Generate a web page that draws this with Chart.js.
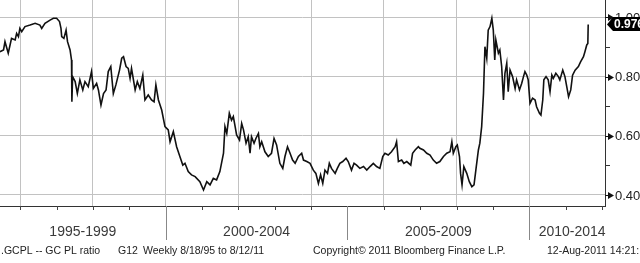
<!DOCTYPE html>
<html>
<head>
<meta charset="utf-8">
<script src="https://cdn.jsdelivr.net/npm/chart.js@4.4.1/dist/chart.umd.min.js"></script>
<style>
  html, body { margin: 0; padding: 0; background: #fff; }
  #wrap { width: 640px; height: 263px; }
</style>
</head>
<body>
<div id="wrap"><canvas id="chart_ratio" width="640" height="263"></canvas></div>
<script>
// fecha (años decimales) y ratio GC/PL
let years = [
  1995.44,1995.54,1995.58,1995.67,1995.76,1995.86,1995.90,1995.95,1995.99,1996.04,
  1996.13,1996.27,1996.41,1996.54,1996.59,1996.68,1996.82,1996.91,1997.00,1997.08,
  1997.12,1997.14,1997.20,1997.26,1997.30,1997.37,1997.41,1997.42,1997.44,1997.51,
  1997.57,1997.64,1997.72,1997.78,1997.87,1997.96,1998.01,1998.10,1998.15,1998.22,
  1998.29,1998.36,1998.42,1998.49,1998.56,1998.63,1998.73,1998.79,1998.84,1998.91,
  1998.97,1999.02,1999.06,1999.16,1999.22,1999.29,1999.37,1999.43,1999.52,1999.61,
  1999.68,1999.73,1999.80,1999.89,1999.98,2000.07,2000.12,2000.21,2000.30,2000.39,
  2000.47,2000.53,2000.62,2000.71,2000.81,2000.94,2001.04,2001.13,2001.22,2001.31,
  2001.40,2001.49,
  2001.59,2001.63,2001.68,2001.75,2001.81,2001.86,2001.91,2001.95,2002.03,2002.09,
  2002.14,2002.21,2002.27,2002.32,2002.36,2002.43,2002.48,2002.55,2002.59,2002.64,
  2002.73,2002.82,2002.91,2002.98,2003.05,2003.14,2003.22,2003.28,2003.35,2003.42,
  2003.49,2003.56,2003.65,2003.74,2003.79,2003.88,2003.97,2004.06,2004.13,2004.20,
  2004.26,2004.32,2004.38,2004.45,2004.50,2004.56,2004.66,2004.72,2004.79,2004.87,
  2004.96,2005.02,2005.11,2005.18,2005.25,2005.34,2005.44,2005.53,2005.62,2005.71,
  2005.80,2005.89,2005.97,2006.03,2006.12,2006.21,2006.31,2006.35,2006.40,2006.49,
  2006.55,2006.63,2006.74,2006.79,2006.86,2006.95,2006.99,
  2007.09,2007.18,2007.27,2007.36,2007.45,2007.54,2007.64,2007.73,2007.82,2007.87,
  2007.91,2007.98,2008.02,2008.08,2008.11,2008.15,2008.20,2008.28,2008.35,2008.42,
  2008.48,2008.53,2008.60,2008.64,2008.69,2008.74,2008.78,2008.83,2008.87,2008.92,
  2008.97,2009.01,2009.05,2009.08,2009.15,2009.19,2009.24,2009.29,2009.33,2009.38,
  2009.42,2009.47,2009.54,2009.61,2009.65,2009.73,2009.79,2009.84,2009.88,2009.93,
  2009.97,2010.02,2010.09,2010.16,2010.20,2010.28,2010.32,2010.37,2010.40,2010.46,
  2010.52,2010.57,2010.62,2010.66,2010.73,2010.80,2010.84,2010.92,2010.98,2011.03,
  2011.08,2011.14,2011.19,2011.26,2011.35,2011.41,2011.49,2011.53,2011.58,2011.61,
  2011.62
];
let ratio = [
  0.884,0.890,0.918,0.879,0.929,0.924,0.946,0.935,0.963,0.952,
  0.969,0.974,0.980,0.974,0.963,0.980,0.991,0.997,0.997,0.986,
  0.963,0.935,0.929,0.957,0.918,0.890,0.856,0.715,0.800,0.783,
  0.743,0.789,0.755,0.783,0.766,0.817,0.760,0.777,0.755,0.704,
  0.743,0.755,0.817,0.834,0.743,0.772,0.822,0.862,0.867,0.834,
  0.828,0.794,0.828,0.755,0.783,0.760,0.805,0.721,0.738,0.721,
  0.715,0.772,0.721,0.687,0.631,0.620,0.580,0.614,0.563,0.530,
  0.501,0.507,0.479,0.468,0.462,0.445,0.417,0.445,0.434,0.456,
  0.451,0.479,
  0.541,0.631,0.608,0.676,0.653,0.665,0.631,0.603,0.586,0.642,
  0.620,0.575,0.597,0.541,0.597,0.575,0.591,0.608,0.563,0.580,
  0.546,0.530,0.541,0.591,0.569,0.507,0.490,0.530,0.563,0.541,
  0.518,0.507,0.530,0.541,0.518,0.513,0.507,0.484,0.473,0.439,
  0.468,0.439,0.484,0.473,0.507,0.490,0.473,0.490,0.507,0.513,
  0.524,0.513,0.484,0.507,0.501,0.490,0.496,0.484,0.496,0.507,
  0.496,0.490,0.530,0.541,0.535,0.546,0.563,0.580,0.513,0.518,
  0.507,0.513,0.501,0.541,0.552,0.563,0.558,
  0.552,0.541,0.535,0.518,0.507,0.513,0.530,0.541,0.546,0.580,
  0.541,0.563,0.569,0.530,0.473,0.434,0.496,0.473,0.445,0.428,
  0.434,0.484,0.552,0.575,0.631,0.743,0.901,0.862,0.957,0.969,
  0.997,0.957,0.856,0.924,0.879,0.890,0.834,0.721,0.811,0.845,
  0.749,0.822,0.800,0.760,0.789,0.755,0.777,0.800,0.817,0.805,
  0.789,0.710,0.727,0.721,0.698,0.676,0.670,0.721,0.789,0.800,
  0.789,0.749,0.805,0.794,0.811,0.800,0.789,0.822,0.800,0.766,
  0.732,0.755,0.805,0.822,0.834,0.850,0.867,0.884,0.907,0.912,
  0.976
];
let gridYears = [1996, 1998, 2000, 2002, 2004, 2006, 2008, 2010];
let periodStarts = [1995, 2000, 2005, 2010];
let periodLabels = ['1995-1999', '2000-2004', '2005-2009', '2010-2014'];
let yTicks = [0.4, 0.6, 0.8, 1.0];
let yMinor = [0.5, 0.7, 0.9];
let lastValue = 0.976;
let footer = ['.GCPL -- GC PL ratio', 'G12', 'Weekly 8/18/95 to 8/12/11',
  'Copyright\u00a9 2011 Bloomberg Finance L.P.', '12-Aug-2011 14:21:'];

let bbg = {
  id: 'bbg',
  afterDraw(chart) {
    let ctx = chart.ctx, a = chart.chartArea, x = chart.scales.x, y = chart.scales.y;
    ctx.save();
    // year ticks below axis
    ctx.strokeStyle = '#444';
    ctx.lineWidth = 1;
    for (let yr = 1996; yr <= 2012; yr++) {
      let px = Math.round(x.getPixelForValue(yr)) + 0.5;
      ctx.beginPath(); ctx.moveTo(px, a.bottom); ctx.lineTo(px, a.bottom + 4); ctx.stroke();
    }
    // period separators + labels
    ctx.strokeStyle = '#888';
    ctx.font = '14px "Liberation Sans", Arial, sans-serif';
    ctx.fillStyle = '#3a3a3a';
    ctx.textAlign = 'center';
    ctx.textBaseline = 'middle';
    periodStarts.forEach((p, i) => {
      let px = x.getPixelForValue(p);
      if (px > a.left) {
        let sx = Math.round(px) + 0.5;
        ctx.beginPath(); ctx.moveTo(sx, a.bottom); ctx.lineTo(sx, a.bottom + 34); ctx.stroke();
      }
      let s = Math.max(px, a.left);
      let e = Math.min(x.getPixelForValue(p + 5), a.right + 10);
      ctx.fillText(periodLabels[i], (s + e) / 2, a.bottom + 26);
    });
    // right axis markers
    ctx.fillStyle = '#111';
    ctx.strokeStyle = '#111';
    yTicks.forEach(v => {
      let py = Math.round(y.getPixelForValue(v)) + 0.5;
      ctx.beginPath(); ctx.moveTo(a.right, py); ctx.lineTo(a.right + 4, py); ctx.stroke();
      ctx.beginPath();
      ctx.moveTo(a.right + 3, py - 3.5); ctx.lineTo(a.right + 9, py); ctx.lineTo(a.right + 3, py + 3.5);
      ctx.closePath(); ctx.fill();
    });
    ctx.strokeStyle = '#333';
    yMinor.forEach(v => {
      let py = Math.round(y.getPixelForValue(v)) + 0.5;
      ctx.beginPath(); ctx.moveTo(a.right, py); ctx.lineTo(a.right + 5, py); ctx.stroke();
    });
    ctx.font = '13px "Liberation Sans", Arial, sans-serif';
    ctx.fillStyle = '#222';
    ctx.textAlign = 'left';
    yTicks.forEach(v => {
      ctx.fillText(v.toFixed(3), a.right + 10, y.getPixelForValue(v) + 1);
    });
    // last value tag
    let ly = y.getPixelForValue(lastValue);
    ctx.fillStyle = '#000';
    ctx.beginPath();
    ctx.moveTo(a.right + 2, ly);
    ctx.lineTo(a.right + 8, ly - 7.5);
    ctx.lineTo(640, ly - 7.5);
    ctx.lineTo(640, ly + 6.5);
    ctx.lineTo(a.right + 8, ly + 6.5);
    ctx.closePath(); ctx.fill();
    ctx.fillStyle = '#fff';
    ctx.font = 'bold 12px "Liberation Sans", Arial, sans-serif';
    ctx.fillText(lastValue.toFixed(3), a.right + 9, ly + 0.5);
    // footer
    ctx.fillStyle = '#222';
    ctx.font = '10.5px "Liberation Sans", Arial, sans-serif';
    let fx = [1, 118, 143, 313, 547];
    footer.forEach((t, i) => ctx.fillText(t, fx[i], a.bottom + 45));
    ctx.restore();
  }
};

let ctx = document.getElementById('chart_ratio');
let grafico = new Chart(ctx, {
  type: 'line',
  data: {
    datasets: [{
      label: 'GC PL ratio',
      data: years.map((yr, i) => ({x: yr, y: ratio[i]})),
      borderColor: '#111',
      borderWidth: 1.6,
      pointRadius: 0,
      tension: 0,
      fill: false
    }]
  },
  options: {
    responsive: false,
    animation: false,
    devicePixelRatio: 1,
    layout: {padding: {left: 0, right: 35, top: 0, bottom: 57}},
    plugins: {legend: false, tooltip: {enabled: false}, title: {display: false}},
    scales: {
      x: {
        type: 'linear',
        min: 1995.443,
        max: 2012.082,
        afterBuildTicks: s => { s.ticks = gridYears.map(v => ({value: v})); },
        ticks: {display: false},
        grid: {display: true, color: '#c2c2c2', lineWidth: 1, drawTicks: false},
        border: {display: true, color: '#333', width: 1}
      },
      y: {
        position: 'right',
        min: 0.3628,
        max: 1.0588,
        afterBuildTicks: s => { s.ticks = yTicks.map(v => ({value: v})); },
        ticks: {display: false},
        grid: {display: true, color: '#c2c2c2', lineWidth: 1, drawTicks: false},
        border: {display: true, color: '#333', width: 1}
      }
    }
  },
  plugins: [bbg]
});
</script>
</body>
</html>
